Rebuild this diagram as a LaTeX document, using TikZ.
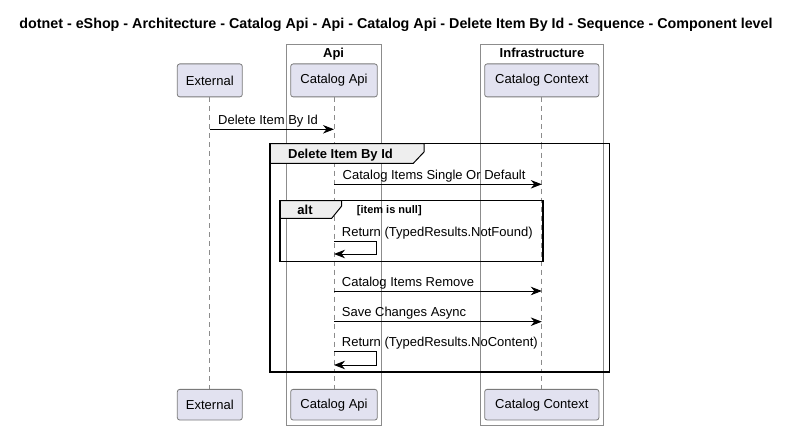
\documentclass[tikz,border=0pt]{standalone}
\usepackage{fontspec}
\setmainfont{Liberation Sans}
\usetikzlibrary{arrows.meta}

\definecolor{partfill}{HTML}{E2E2F0}
\definecolor{partline}{HTML}{7A7A7A}
\definecolor{boxline}{HTML}{8C8C8C}
\definecolor{tabfill}{HTML}{EEEEEE}
\definecolor{lifeline}{HTML}{8C8C8C}

\tikzset{
  txt/.style={font=\fontsize{13}{15}\selectfont, inner sep=0pt},
  participant/.style={draw=partline, fill=partfill, rounded corners=2.5pt,
    line width=0.8pt, txt, minimum height=33pt},
  boxlabel/.style={font=\bfseries\fontsize{13}{15}\selectfont, inner sep=0pt},
  frameline/.style={draw=black, line width=1.6pt},
  tabshape/.style={draw=black, fill=tabfill, line width=1pt},
  lifedash/.style={draw=lifeline, line width=0.7pt, dash pattern=on 5pt off 4pt},
  msg/.style={draw=black, line width=0.9pt,
    -{Stealth[length=11pt,width=8.5pt,inset=3.5pt]}},
  msglabel/.style={txt, anchor=base west},
}

\begin{document}
\begin{tikzpicture}[x=1pt,y=-1pt]
\useasboundingbox (0,0) rectangle (798,430);

% title
\node[font=\bfseries\fontsize{14.3}{16}\selectfont, inner sep=0pt, anchor=base]
  (title) at (396,29) {dotnet - eShop - Architecture - Catalog Api - Api - Catalog Api - Delete Item By Id - Sequence - Component level};

% grouping boxes
\draw[boxline, line width=0.8pt] (286,44.7) rectangle (381.3,425.3);
\draw[boxline, line width=0.8pt] (480.7,44.7) rectangle (603.3,425.3);
\node[boxlabel, anchor=base] (apiboxlbl) at (333.6,57.5) {Api};
\node[boxlabel, anchor=base] (infboxlbl) at (542,57.5) {Infrastructure};

% participants (top and bottom)
\node[participant, minimum width=65pt] (ext) at (209.8,80.4) {External};
\node[participant, minimum width=86.6pt] (api) at (334,80.4) {Catalog Api};
\node[participant, minimum width=114.3pt] (ctx) at (541.8,80.4) {Catalog Context};
\node[participant, minimum width=65pt, minimum height=30.7pt] (extB) at (209.8,404.7) {External};
\node[participant, minimum width=86.6pt, minimum height=30.7pt] (apiB) at (334,404.7) {Catalog Api};
\node[participant, minimum width=114.3pt, minimum height=30.7pt] (ctxB) at (541.8,404.7) {Catalog Context};

% lifelines
\draw[lifedash] (ext.south) -- (extB.north);
\draw[lifedash] (api.south) -- (apiB.north);
\draw[lifedash] (ctx.south) -- (ctxB.north);

% group frame: Delete Item By Id
\fill[white] (270,143.7) rectangle (609.3,372);
\draw[lifedash] (334,143.7) -- (334,372);
\draw[lifedash] (541.8,143.7) -- (541.8,372);
\draw[boxline, line width=0.8pt] (286,143.7) -- (286,372);
\draw[boxline, line width=0.8pt] (381.3,143.7) -- (381.3,372);
\draw[boxline, line width=0.8pt] (480.7,143.7) -- (480.7,372);
\draw[boxline, line width=0.8pt] (603.3,143.7) -- (603.3,372);
\draw[tabshape] (270,143.7) -- (424,143.7) -- (424,152) -- (413.3,163.3) -- (270,163.3) -- cycle;
\draw[frameline] (270,143.7) rectangle (609.3,372);
\node[boxlabel, anchor=base] (grplbl) at (340.5,158.5) {Delete Item By Id};

% alt frame
\draw[tabshape] (280,200.7) -- (341.7,200.7) -- (341.7,206) -- (331.7,218.3) -- (280,218.3) -- cycle;
\draw[frameline] (280,200.7) rectangle (542.7,261.7);
\node[boxlabel, anchor=base] (altlbl) at (305,214.5) {alt};
\node[font=\bfseries\fontsize{11}{13}\selectfont, inner sep=0pt, anchor=base west]
  (altcond) at (356.7,213.5) {[item is null]};

% message anchor points on the lifelines
\coordinate (m1a) at (209.8,129.3);
\coordinate (m1b) at (334,129.3);
\coordinate (m2a) at (334,184.3);
\coordinate (m2b) at (541.8,184.3);
\coordinate (s1a) at (334,241);
\coordinate (s1b) at (334,254);
\coordinate (m4a) at (334,291);
\coordinate (m4b) at (541.8,291);
\coordinate (m5a) at (334,321.7);
\coordinate (m5b) at (541.8,321.7);
\coordinate (s2a) at (334,351.7);
\coordinate (s2b) at (334,365);

% messages
\draw[msg] (m1a) -- (m1b);
\node[msglabel] (l1) at (218,125) {Delete Item By Id};

\draw[msg] (m2a) -- (m2b);
\node[msglabel] (l2) at (342.5,180) {Catalog Items Single Or Default};

\draw[msg] (s1a) -- ++(42.7,0) |- (s1b);
\node[msglabel] (l3) at (341.7,236.5) {Return (TypedResults.NotFound)};

\draw[msg] (m4a) -- (m4b);
\node[msglabel] (l4) at (341.7,286.5) {Catalog Items Remove};

\draw[msg] (m5a) -- (m5b);
\node[msglabel] (l5) at (341.7,317) {Save Changes Async};

\draw[msg] (s2a) -- ++(42.7,0) |- (s2b);
\node[msglabel] (l6) at (341.7,347) {Return (TypedResults.NoContent)};
\end{tikzpicture}
\end{document}
